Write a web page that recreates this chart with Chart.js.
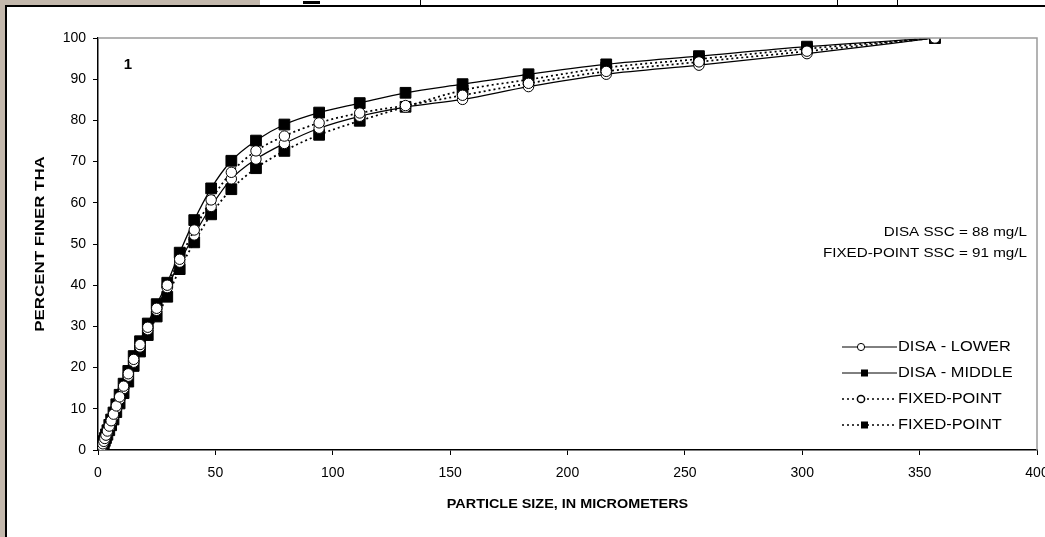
<!DOCTYPE html>
<html>
<head>
<meta charset="utf-8">
<script src="https://cdn.jsdelivr.net/npm/chart.js@4.4.1/dist/chart.umd.min.js"></script>
<style>
  html, body { margin: 0; padding: 0; background: #fff; }
  body { width: 1045px; height: 537px; overflow: hidden; position: relative; }
  .beige { position: absolute; background: #c3b8ac; }
  .ink { position: absolute; background: #000; }
  #chart { position: absolute; left: 8px; top: 7px; }
</style>
</head>
<body>
<div class="beige" style="left:0;top:0;width:260px;height:5px"></div>
<div class="beige" style="left:0;top:0;width:5px;height:537px"></div>
<div class="ink" style="left:5px;top:5px;width:1040px;height:2px"></div>
<div class="ink" style="left:5px;top:5px;width:2px;height:532px"></div>
<div class="ink" style="left:303px;top:1px;width:17px;height:3px"></div>
<div class="ink" style="left:420px;top:0;width:1px;height:5px"></div>
<div class="ink" style="left:837px;top:0;width:1px;height:5px"></div>
<div class="ink" style="left:897px;top:0;width:1px;height:5px"></div>
<canvas id="chart" width="1060" height="530"></canvas>
<script>
// particle sizes (micrometers)
const sizes = [1.5, 1.8, 2.1, 2.5, 2.9, 3.4, 4.0, 4.8, 5.6, 6.6, 7.8, 9.2, 10.9, 12.9, 15.2, 17.9, 21.2, 25.0,
  29.5, 34.8, 41.0, 48.2, 56.8, 67.3, 79.4, 94.2, 111.5, 131, 155.3, 183.4, 216.5, 256, 302, 356.5];

// percent finer
const disaLower = [0.5, 0.9, 1.3, 1.9, 2.5, 3.3, 4.2, 5.4, 6.7, 8.2, 10.1, 12.3, 14.9, 17.9, 21.3, 25.0, 29.2, 33.9,
  39.4, 45.6, 52.2, 59.1, 65.8, 70.6, 74.4, 78.1, 81.0, 83.2, 85.1, 88.2, 91.2, 93.4, 96.2, 100];
const disaMiddle = [0.7, 1.1, 1.6, 2.2, 2.9, 3.8, 4.8, 6.1, 7.4, 9.1, 11.1, 13.4, 16.1, 19.2, 22.8, 26.4, 30.7, 35.4,
  40.6, 47.9, 55.8, 63.5, 70.2, 75.1, 79.0, 81.9, 84.2, 86.7, 88.8, 91.2, 93.6, 95.6, 97.9, 100];
const fixedCircle = [0.6, 1.0, 1.5, 2.1, 2.8, 3.6, 4.6, 5.8, 7.1, 8.7, 10.7, 12.9, 15.5, 18.5, 22.0, 25.6, 29.8, 34.4,
  40.0, 46.3, 53.4, 60.7, 67.4, 72.6, 76.2, 79.4, 81.8, 83.6, 86.1, 89.0, 91.9, 94.2, 96.8, 100];
const fixedSquare = [0.4, 0.7, 1.1, 1.6, 2.2, 2.9, 3.7, 4.8, 6.0, 7.4, 9.2, 11.3, 13.8, 16.6, 20.4, 23.9, 27.9, 32.4,
  37.2, 43.9, 50.4, 57.2, 63.3, 68.4, 72.6, 76.5, 79.9, 83.3, 87.3, 89.9, 92.8, 94.9, 97.4, 100];

const legendLabels = ["DISA - LOWER", "DISA - MIDDLE", "FIXED-POINT", "FIXED-POINT"];
const notes = ["DISA SSC = 88 mg/L", "FIXED-POINT SSC = 91 mg/L"];
const panelLabel = "1";
const xTitle = "PARTICLE SIZE, IN MICROMETERS";
const yTitle = "PERCENT FINER THA";

const FONT = "'Liberation Sans', Arial, sans-serif";
const DOT = [2, 3];

function points(ys) {
  return sizes.map((x, i) => ({ x: x, y: ys[i] }));
}

function series(label, ys, square, dotted, order) {
  return {
    label: label,
    data: points(ys),
    order: order,
    borderColor: "#000",
    borderWidth: dotted ? 1.75 : 1.25,
    borderDash: dotted ? DOT : [],
    cubicInterpolationMode: "monotone",
    fill: false,
    pointStyle: square ? "rect" : "circle",
    pointRadius: square ? 7.6 : 5.2,
    pointBackgroundColor: square ? "#000" : "#fff",
    pointBorderColor: "#000",
    pointBorderWidth: 1
  };
}

// text drawn a bit wider than the font, like the source
function wideText(ctx, text, x, y, font, sx, align, rot) {
  ctx.save();
  ctx.font = font;
  ctx.fillStyle = "#000";
  ctx.textBaseline = "middle";
  ctx.textAlign = align;
  ctx.translate(x, y);
  if (rot) ctx.rotate(rot);
  ctx.scale(sx, 1);
  ctx.fillText(text, 0, 0);
  ctx.restore();
}

const extras = {
  id: "extras",
  afterDraw(chart) {
    const ctx = chart.ctx;
    const a = chart.chartArea;
    // plot frame, top and right
    ctx.save();
    ctx.strokeStyle = "#9a9a9a";
    ctx.lineWidth = 1.5;
    ctx.beginPath();
    ctx.moveTo(a.left, a.top);
    ctx.lineTo(a.right, a.top);
    ctx.lineTo(a.right, a.bottom);
    ctx.stroke();
    ctx.restore();

    // axis titles
    wideText(ctx, xTitle, (a.left + a.right) / 2, 498, "bold 12px " + FONT, 1.2, "center");
    wideText(ctx, yTitle, 32, (a.top + a.bottom) / 2, "bold 13px " + FONT, 1.3, "center", -Math.PI / 2);

    // panel number
    ctx.save();
    ctx.font = "bold 15px " + FONT;
    ctx.fillStyle = "#000";
    ctx.textAlign = "center";
    ctx.textBaseline = "middle";
    ctx.fillText(panelLabel, 120, 58);
    ctx.restore();

    // concentration notes
    wideText(ctx, notes[0], 1019, 225, "13px " + FONT, 1.17, "right");
    wideText(ctx, notes[1], 1019, 246, "13px " + FONT, 1.17, "right");

    // legend
    const rows = [340, 366, 392, 418];
    chart.data.datasets.forEach((ds, i) => {
      const y = rows[i];
      ctx.save();
      ctx.strokeStyle = "#000";
      ctx.lineWidth = ds.borderDash.length ? 1.5 : 1;
      ctx.setLineDash(ds.borderDash);
      ctx.beginPath();
      ctx.moveTo(834, y);
      ctx.lineTo(889, y);
      ctx.stroke();
      ctx.setLineDash([]);
      if (ds.pointStyle === "rect") {
        ctx.fillStyle = "#000";
        ctx.fillRect(853, y - 3.5, 7, 7);
      } else {
        ctx.fillStyle = "#fff";
        ctx.beginPath();
        ctx.arc(853, y, 3.6, 0, Math.PI * 2);
        ctx.fill();
        ctx.stroke();
      }
      ctx.restore();
      wideText(ctx, legendLabels[i], 890, y, "14px " + FONT, 1.17, "left");
    });
  }
};

// circles sit on top of the squares (lower order = drawn later)
new Chart(document.getElementById("chart"), {
  type: "line",
  data: {
    datasets: [
      series(legendLabels[0], disaLower, false, false, 1),
      series(legendLabels[1], disaMiddle, true, false, 3),
      series(legendLabels[2], fixedCircle, false, true, 0),
      series(legendLabels[3], fixedSquare, true, true, 2)
    ]
  },
  options: {
    responsive: false,
    animation: false,
    devicePixelRatio: 1,
    layout: { padding: { top: 31, right: 31, left: 0, bottom: 0 } },
    plugins: { legend: { display: false }, tooltip: { enabled: false } },
    scales: {
      x: {
        type: "linear",
        min: 0,
        max: 400,
        ticks: { stepSize: 50, color: "#000", font: { family: FONT, size: 14 }, padding: 10 },
        grid: { drawOnChartArea: false, color: "#000", tickLength: 5 },
        border: { color: "#000", width: 1.5 },
        afterFit(s) { s.height = 87; }
      },
      y: {
        min: 0,
        max: 100,
        ticks: { stepSize: 10, color: "#000", font: { family: FONT, size: 14 }, padding: 7 },
        grid: { drawOnChartArea: false, color: "#000", tickLength: 5 },
        border: { color: "#000", width: 1.5 },
        afterFit(s) { s.width = 90; }
      }
    }
  },
  plugins: [extras]
});
</script>
</body>
</html>
